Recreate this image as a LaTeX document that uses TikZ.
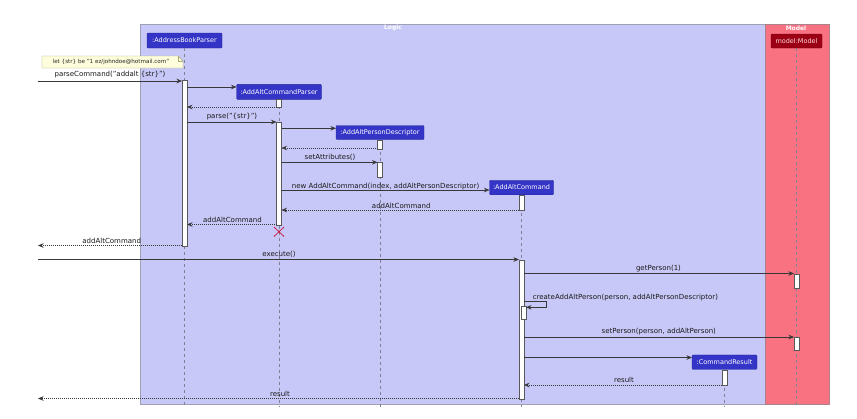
\documentclass[tikz,border=0pt]{standalone}
\usepackage{fontspec}
\setmainfont{DejaVu Sans}
\usetikzlibrary{arrows.meta}
\definecolor{logicfill}{RGB}{200,200,248}
\definecolor{logicdraw}{RGB}{160,160,180}
\definecolor{modelfill}{RGB}{248,114,130}
\definecolor{modeldraw}{RGB}{170,130,140}
\definecolor{partblue}{RGB}{52,52,198}
\definecolor{partred}{RGB}{155,0,20}
\definecolor{arrowc}{RGB}{56,56,56}
\definecolor{lifec}{RGB}{130,130,150}
\definecolor{notefill}{RGB}{254,254,220}
\definecolor{notedraw}{RGB}{170,170,120}
\definecolor{killc}{RGB}{200,30,70}
\tikzset{
  part/.style={draw=partblue!80!black, fill=partblue, text=white, rounded corners=1pt,
    inner sep=0pt, font=\fontsize{6.5}{7}\selectfont, line width=0.4pt},
  mpart/.style={part, draw=partred!80!black, fill=partred, text=white!85!red},
  actbar/.style={draw=black!65, fill=white, line width=0.5pt, minimum width=5pt, inner sep=0pt, anchor=north},
  lifeline/.style={draw=lifec, line width=0.5pt, dash pattern=on 3pt off 3pt},
  msg/.style={draw=arrowc, line width=0.6pt, -{Stealth[length=5.5pt,width=4.5pt,inset=1.8pt]}},
  ret/.style={msg, dash pattern=on 1pt off 1pt},
  lbl/.style={inner sep=0pt, font=\fontsize{7}{8}\selectfont, text=black!90},
  ttl/.style={inner sep=0pt, font=\bfseries\fontsize{6}{7}\selectfont, text=white},
}
\begin{document}
\begin{tikzpicture}[x=1pt,y=-1pt]
\useasboundingbox (0,0) rectangle (857,418);
\fill[white] (0,0) rectangle (857,418);
% boxes
\draw[fill=logicfill, draw=logicdraw, line width=0.6pt] (140,24) rectangle (765,404);
\draw[fill=modelfill, draw=modeldraw, line width=0.6pt] (765,24) rectangle (829,404);
\node[ttl] (tlogic) at (393,28) {Logic};
\node[ttl] (tmodel) at (796,28) {Model};
% participants
\node[part, minimum width=75pt, minimum height=15pt] (abp) at (184.5,40.5) {:AddressBookParser};
\node[part, minimum width=85pt, minimum height=15pt] (acp) at (279,91.8) {:AddAltCommandParser};
\node[part, minimum width=88pt, minimum height=14pt] (apd) at (380,132.5) {:AddAltPersonDescriptor};
\node[part, minimum width=64pt, minimum height=14.5pt] (aac) at (521.5,187.5) {:AddAltCommand};
\node[part, minimum width=65pt, minimum height=14.5pt] (cr) at (724.5,362.2) {:CommandResult};
\node[mpart, minimum width=51pt, minimum height=14pt] (model) at (796.5,41) {model:Model};
% lifelines
\coordinate (abpE) at (184.5,407);
\coordinate (acpE) at (279,407);
\coordinate (apdE) at (380,407);
\coordinate (aacE) at (521.5,407);
\coordinate (crE) at (724.5,407);
\coordinate (modelE) at (796.5,407);
\draw[lifeline] (abp.south) -- (abpE);
\draw[lifeline] (acp.south) -- (acpE);
\draw[lifeline] (apd.south) -- (apdE);
\draw[lifeline] (aac.south) -- (aacE);
\draw[lifeline] (cr.south) -- (crE);
\draw[lifeline] (model.south) -- (modelE);
% activations
\node[actbar, minimum height=165.5pt] (abpA) at (184.5,80) {};
\node[actbar, minimum height=8pt] (acpA1) at (279,99.3) {};
\node[actbar, minimum height=102.5pt] (acpA2) at (279,122) {};
\node[actbar, minimum height=9pt] (apdA1) at (380,139.5) {};
\node[actbar, minimum height=15pt] (apdA2) at (380,162) {};
\node[actbar, minimum height=15pt] (aacA1) at (521.5,195) {};
\node[actbar, minimum height=139pt] (aacA2) at (521.5,259.5) {};
\node[actbar, minimum height=13pt] (aacA3) at (523.5,305.5) {};
\node[actbar, minimum height=14pt] (modA1) at (796.5,273.5) {};
\node[actbar, minimum height=13pt] (modA2) at (796.5,337) {};
\node[actbar, minimum height=15.5pt] (crA) at (724.5,369.5) {};
% note
\draw[fill=notefill, draw=notedraw, line width=0.4pt] (42,56) -- (178,56) -- (183,61) -- (183,68) -- (42,68) -- cycle;
\draw[draw=notedraw, line width=0.4pt] (178,56) -- (178,61) -- (183,61);
\node[inner sep=0pt, font=\fontsize{5.6}{6}\selectfont, text=black!85] (note) at (111,62) {let \{str\} be "1 ez/johndoe@hotmail.com"};
% message endpoints
\coordinate (m1s) at (38,81);    \coordinate (m1e) at (182,81);
\coordinate (m2s) at (187,87);   \coordinate (m2e) at (236.5,87);
\coordinate (m3s) at (276.5,107); \coordinate (m3e) at (187,107);
\coordinate (m4s) at (187,122);  \coordinate (m4e) at (276.5,122);
\coordinate (m5s) at (281.5,128.3); \coordinate (m5e) at (336,128.3);
\coordinate (m6s) at (377.5,148); \coordinate (m6e) at (281.5,148);
\coordinate (m7s) at (281.5,162.3); \coordinate (m7e) at (377.5,162.3);
\coordinate (m8s) at (281.5,190); \coordinate (m8e) at (489.5,190);
\coordinate (m9s) at (519,210);  \coordinate (m9e) at (281.5,210);
\coordinate (m10s) at (276.5,224.5); \coordinate (m10e) at (187,224.5);
\coordinate (m11s) at (182,245.5); \coordinate (m11e) at (38,245.5);
\coordinate (m12s) at (38,259.5); \coordinate (m12e) at (519,259.5);
\coordinate (m13s) at (524,273.5); \coordinate (m13e) at (794,273.5);
\coordinate (m14s) at (524,301.7); \coordinate (m14a) at (546.7,301.7);
\coordinate (m14b) at (546.7,307.3); \coordinate (m14e) at (526,307.3);
\coordinate (m15s) at (524,337); \coordinate (m15e) at (794,337);
\coordinate (m16s) at (524,357.5); \coordinate (m16e) at (692,357.5);
\coordinate (m17s) at (722,385); \coordinate (m17e) at (524,385);
\coordinate (m18s) at (519,398.5); \coordinate (m18e) at (38,398.5);
% messages
\draw[msg] (m1s) -- (m1e);
\draw[msg] (m2s) -- (m2e);
\draw[ret] (m3s) -- (m3e);
\draw[msg] (m4s) -- (m4e);
\draw[msg] (m5s) -- (m5e);
\draw[ret] (m6s) -- (m6e);
\draw[msg] (m7s) -- (m7e);
\draw[msg] (m8s) -- (m8e);
\draw[ret] (m9s) -- (m9e);
\draw[ret] (m10s) -- (m10e);
\draw[ret] (m11s) -- (m11e);
\draw[msg] (m12s) -- (m12e);
\draw[msg] (m13s) -- (m13e);
\draw[msg] (m14s) -- (m14a) -- (m14b) -- (m14e);
\draw[msg] (m15s) -- (m15e);
\draw[msg] (m16s) -- (m16e);
\draw[ret] (m17s) -- (m17e);
\draw[ret] (m18s) -- (m18e);
% labels
\node[lbl] (l1) at (110,75) {parseCommand("addalt \{str\}")};
\node[lbl] (l4) at (232,116.8) {parse("\{str\}")};
\node[lbl] (l7) at (330,157.3) {setAttributes()};
\node[lbl] (l8) at (385.6,186.5) {new AddAltCommand(index, addAltPersonDescriptor)};
\node[lbl] (l9) at (401.3,205.5) {addAltCommand};
\node[lbl] (l10) at (232.5,219.5) {addAltCommand};
\node[lbl] (l11) at (111.7,240.5) {addAltCommand};
\node[lbl] (l12) at (279,254.5) {execute()};
\node[lbl] (l13) at (658.5,268.5) {getPerson(1)};
\node[lbl] (l14) at (625.4,297.3) {createAddAltPerson(person, addAltPersonDescriptor)};
\node[lbl] (l15) at (658.8,331.8) {setPerson(person, addAltPerson)};
\node[lbl] (l17) at (624,380) {result};
\node[lbl] (l18) at (280,394) {result};
% destroy mark
\coordinate (x1) at (274,227); \coordinate (x2) at (284,236.5);
\coordinate (x3) at (274,236.5); \coordinate (x4) at (284,227);
\draw[killc, line width=0.8pt] (x1) -- (x2) (x3) -- (x4);
\end{tikzpicture}
\end{document}
